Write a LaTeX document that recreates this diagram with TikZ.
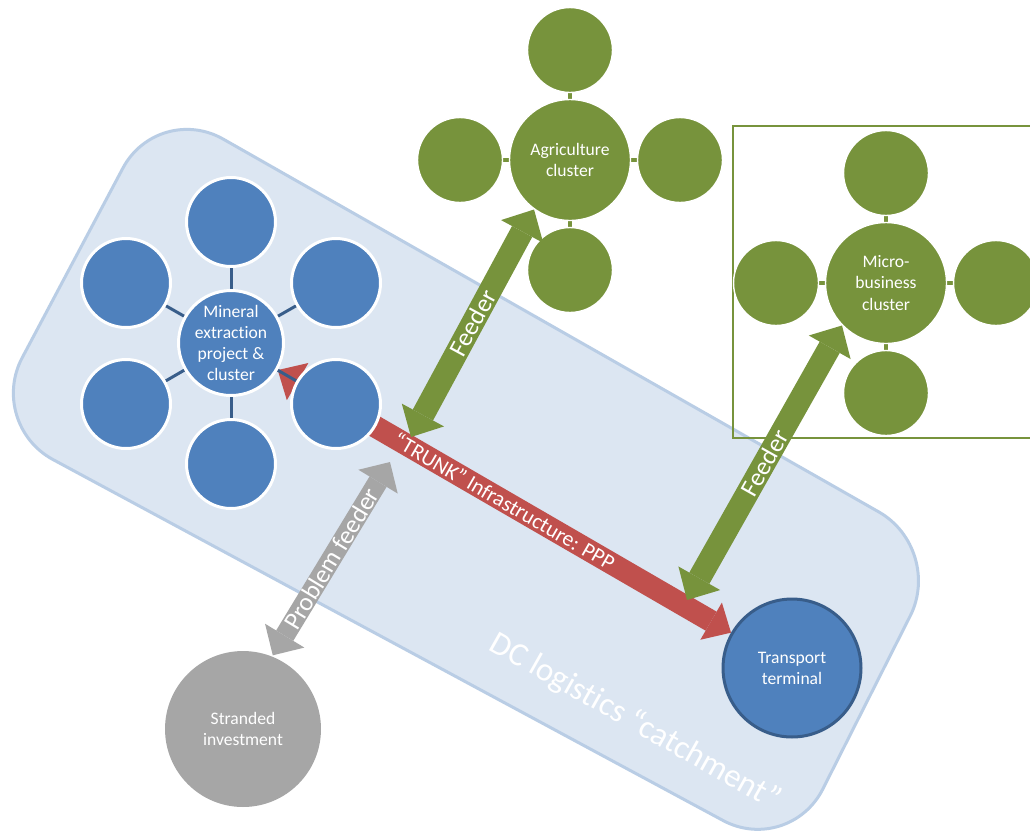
\documentclass[tikz,border=0pt]{standalone}
\usepackage{fontspec}
\setmainfont{Carlito}[Ligatures=NoCommon]
\usetikzlibrary{arrows.meta}
\usetikzlibrary{backgrounds}

\definecolor{catchfill}{HTML}{DCE6F2}
\definecolor{catchline}{HTML}{B9CDE5}
\definecolor{minblue}{HTML}{4F81BD}
\definecolor{linkblue}{HTML}{385D8A}
\definecolor{trunkred}{HTML}{C0504D}
\definecolor{feedgreen}{HTML}{77933C}
\definecolor{strandgray}{HTML}{A6A6A6}

\tikzset{
  hub/.style={circle, draw=white, line width=1.7pt, inner sep=0pt, align=center, text=white, font=\fontsize{10}{12}\selectfont},
  minhub/.style={hub, fill=minblue, minimum size=2.1cm},
  minsat/.style={hub, fill=minblue, minimum size=1.78cm},
  greenhub/.style={hub, fill=feedgreen, line width=0.8pt, minimum size=2.42cm},
  greensat/.style={hub, fill=feedgreen, line width=0.8pt, minimum size=1.7cm},
  minlink/.style={draw=linkblue, line width=0.06cm},
  greenlink/.style={draw=feedgreen, line width=0.09cm},
  armlabel/.style={text=white, font=\fontsize{14.5}{16}\selectfont},
  trunklabel/.style={text=white, font=\fontsize{12.3}{14}\selectfont},
  trunkarrow/.style={draw=trunkred, line width=0.44cm, {Triangle[width=0.86cm, length=0.46cm, line width=0pt]}-{Triangle[width=0.86cm, length=0.46cm, line width=0pt]}},
  feedarrow/.style={draw=feedgreen, line width=0.46cm, {Triangle[width=0.96cm, length=0.5cm, line width=0pt]}-{Triangle[width=0.96cm, length=0.5cm, line width=0pt]}},
  probarrow/.style={draw=strandgray, line width=0.4cm, {Triangle[width=0.92cm, length=0.46cm, line width=0pt]}-{Triangle[width=0.92cm, length=0.46cm, line width=0pt]}}
}

\begin{document}
\begin{tikzpicture}[x=0.02cm, y=-0.02cm]
    \useasboundingbox (0,0) rectangle (1030,836);

    % mineral cluster
    \node [minhub] (min) at (231,343) {Mineral\\extraction\\project \&\\cluster};
    \node [minsat] (minT) at (231,222) {};
    \node [minsat] (minUL) at (126,283) {};
    \node [minsat] (minUR) at (336,283) {};
    \node [minsat] (minLL) at (126,404) {};
    \node [minsat] (minLR) at (336,404) {};
    \node [minsat] (minB) at (231,464) {};

    % agriculture cluster
    \node [greenhub] (agri) at (570,160) {Agriculture\\cluster};
    \node [greensat] (agriT) at (570,50) {};
    \node [greensat] (agriL) at (460,160) {};
    \node [greensat] (agriR) at (680,160) {};
    \node [greensat] (agriB) at (570,270) {};

    % micro-business cluster
    \node [greenhub] (micro) at (886,283) {Micro-\\business\\cluster};
    \node [greensat] (microT) at (886,173) {};
    \node [greensat] (microL) at (776,283) {};
    \node [greensat] (microR) at (996,283) {};
    \node [greensat] (microB) at (886,393) {};

    \node [hub, fill=minblue, draw=linkblue, line width=0.06cm, minimum size=2.76cm] (term) at (792,668) {Transport\\terminal};
    \node [hub, fill=strandgray, draw=none, minimum size=3.12cm] (strand) at (243,729) {Stranded\\investment};

    \begin{scope}[on background layer]
      \fill [white] (0,0) rectangle (1030,836);
      \draw [catchline, fill=catchfill, line width=0.06cm, rounded corners=1.5cm] (158,102) -- (944,549) -- (789,856) -- (-13,424) -- cycle;
      \draw [feedgreen, line width=0.04cm] (733,126) rectangle (1040,438);
      \draw [trunkarrow] (min) -- (term) node [midway, sloped, trunklabel] {“TRUNK” Infrastructure: PPP};
      \draw [minlink] (min) -- (minT);
      \draw [minlink] (min) -- (minUL);
      \draw [minlink] (min) -- (minUR);
      \draw [minlink] (min) -- (minLL);
      \draw [minlink] (min) -- (minLR);
      \draw [minlink] (min) -- (minB);
      \draw [greenlink] (agri) -- (agriT);
      \draw [greenlink] (agri) -- (agriL);
      \draw [greenlink] (agri) -- (agriR);
      \draw [greenlink] (agri) -- (agriB);
      \draw [greenlink] (micro) -- (microT);
      \draw [greenlink] (micro) -- (microL);
      \draw [greenlink] (micro) -- (microR);
      \draw [greenlink] (micro) -- (microB);
    \end{scope}

    % feeders
    \coordinate (f1) at (411,437);
    \coordinate (f2) at (687,600);
    \coordinate (pf) at (390,462);
    \draw [feedarrow] (f1) -- (agri.234) node [midway, sloped, armlabel] {Feeder};
    \draw [feedarrow] (f2) -- (micro.224) node [midway, sloped, armlabel] {Feeder};
    \draw [probarrow] (strand.68) -- (pf) node [midway, sloped, armlabel] {Problem feeder};

    \node [rotate=-29.5, text=white, font=\fontsize{18.8}{22}\selectfont] (dc) at (635,722) {DC logistics “catchment”};
\end{tikzpicture}
\end{document}
